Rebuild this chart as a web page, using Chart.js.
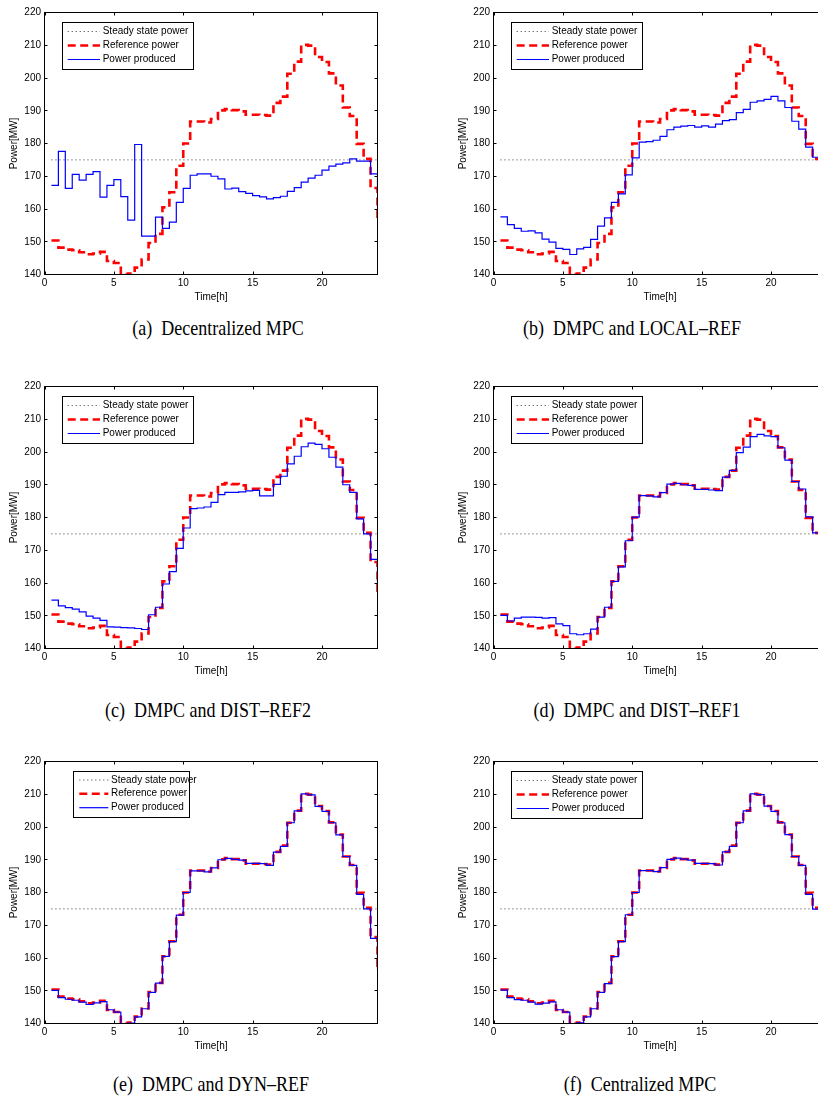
<!DOCTYPE html>
<html>
<head>
<meta charset="utf-8">
<script src="https://cdn.jsdelivr.net/npm/chart.js@4.4.1/dist/chart.umd.min.js"></script>
<style>
html,body{margin:0;padding:0;background:#fff;}
#page{position:relative;width:818px;height:1096px;overflow:hidden;background:#fff;}
.cv{position:absolute;}
.cap{position:absolute;font-family:"Liberation Serif","Times New Roman",serif;font-size:18px;color:#000;white-space:nowrap;transform:translate(-50%,-50%) scaleY(1.12);}
.cap .lbl{margin-right:9px;}
</style>
</head>
<body>
<div id="page"></div>
<script>
// ---------------- DATA ----------------
const hours = [0.5,1,1.5,2,2.5,3,3.5,4,4.5,5,5.5,6,6.5,7,7.5,8,8.5,9,9.5,10,10.5,11,11.5,12,12.5,13,13.5,14,14.5,15,15.5,16,16.5,17,17.5,18,18.5,19,19.5,20,20.5,21,21.5,22,22.5,23,23.5,24];
const steadyHours = [0.5, 24];
const steadyPower = 175;
const referencePower = [150.4,148.2,147.6,147.4,146.8,146.2,146.4,146.9,144.1,143.5,139.9,140.3,142.1,144.6,149.6,152.4,160.5,165.1,173.2,180.0,186.7,186.7,186.4,187.5,190.1,190.5,190.2,189.8,188.8,188.8,188.7,188.5,192.4,194.3,201.3,205.0,210.1,209.9,206.4,204.9,201.4,197.7,191.0,188.4,179.9,175.3,166.4,156.0];
const producedDecentralized = [167.2,177.6,166.3,170.6,168.8,170.6,171.4,163.6,167.2,169.0,163.8,156.6,179.7,151.7,151.7,157.5,154.1,156.0,162.0,166.3,170.3,170.7,170.7,170.0,169.2,166.1,166.4,165.3,164.8,164.1,163.7,163.1,163.5,163.9,165.4,166.5,168.2,169.4,170.3,171.9,173.1,173.7,174.1,175.3,174.6,174.6,170.7,165.4];
const producedLocalRef = [157.6,155.2,154.1,153.2,153.3,152.7,150.8,149.9,148.0,147.7,146.1,147.8,148.3,150.7,154.8,157.3,162.0,164.6,170.4,175.6,180.4,180.6,181.0,182.2,184.2,185.0,185.3,185.5,185.0,185.4,185.0,185.9,187.0,187.3,189.4,190.4,192.6,193.0,193.5,194.4,193.0,191.0,186.8,184.4,178.9,175.8,175.2,174.0];
const producedDistRef2 = [154.8,153.0,152.5,152.0,151.2,149.9,149.3,148.6,146.6,146.5,146.4,146.3,146.1,145.8,150.3,152.6,159.7,163.5,170.6,176.8,182.7,182.9,183.2,184.6,187.0,187.7,187.7,187.8,188.1,188.3,186.6,186.6,190.1,192.6,196.4,198.7,201.6,202.7,202.3,201.0,198.4,195.4,190.0,187.7,179.6,175.0,167.2,159.0];
const producedDistRef1 = [150.1,148.4,149.3,149.6,149.6,149.5,149.3,149.4,147.5,147.0,144.5,144.2,144.5,145.9,149.6,152.6,160.5,164.9,172.9,180.1,186.7,186.6,186.3,187.6,190.2,190.4,190.0,189.8,188.6,188.6,188.4,188.2,192.3,194.4,199.8,201.5,204.7,205.4,204.9,204.7,201.3,197.5,191.0,188.7,180.2,175.3,175.2,175.0];
const producedDynRef = [150.1,147.9,147.4,147.1,146.5,145.8,146.3,146.7,144.2,143.5,139.9,140.1,142.0,144.5,149.5,152.3,160.5,165.0,173.1,180.0,186.6,186.6,186.3,187.5,190.0,190.4,190.1,189.9,188.9,188.9,188.8,188.3,192.3,194.1,201.3,204.9,210.1,209.8,206.3,204.8,201.3,197.6,191.0,188.3,179.4,175.0,166.0,156.5];
const producedCentralized = [150.2,147.9,147.3,147.1,146.5,145.9,146.2,146.6,144.2,143.5,140.0,140.2,142.0,144.5,149.5,152.2,160.4,165.0,173.2,180.0,186.7,186.7,186.4,187.6,190.1,190.5,190.2,189.9,188.9,188.9,188.8,188.4,192.4,194.1,201.3,204.9,210.1,209.9,206.4,204.8,201.3,197.7,191.0,188.3,179.4,174.9,166.2,156.5];
const xTicks = [0,5,10,15,20];
const yTicks = [140,150,160,170,180,190,200,210,220];
const seriesLabels = ['Steady state power','Reference power','Power produced'];
const xTitle = 'Time[h]';
const yTitle = 'Power[MW]';
const captionLabels = ['(a)','(b)','(c)','(d)','(e)','(f)'];
const captionTexts = ['Decentralized MPC','DMPC and LOCAL\u2013REF','DMPC and DIST\u2013REF2','DMPC and DIST\u2013REF1','DMPC and DYN\u2013REF','Centralized MPC'];
const producedSeries = [producedDecentralized, producedLocalRef, producedDistRef2, producedDistRef1, producedDynRef, producedCentralized];

// ---------------- LAYOUT / STYLE ----------------
const FONT = '"Liberation Sans", Arial, Helvetica, sans-serif';
Chart.defaults.font.family = FONT;
Chart.defaults.font.size = 10;
Chart.defaults.color = '#000';

const PLOT_W = 333, PLOT_H = 262, Y_AXIS_W = 44.5, X_AXIS_H = 30, PAD_TOP = 12.5, PAD_RIGHT = 10.5, PAD_BOTTOM = 0.5;
const CANVAS_W = Y_AXIS_W + PLOT_W + PAD_RIGHT;
const CANVAS_H = PAD_TOP + PLOT_H + X_AXIS_H + PAD_BOTTOM;

const legendStd = {box:[17.8,9.2,148.8,56.2], rows:[19.0,33.0,47.0], sample:[23.2,55.5], text:58.2};
const legendE = {box:[28.2,9.2,144.5,55.2], rows:[18.5,32.2,46.2], sample:[34.8,63.8], text:66.5};

const panelLayout = [
  {left:0,   top:0,   legend:legendStd, capX:218, capY:329},
  {left:449, top:0,   legend:legendStd, capX:632, capY:329},
  {left:0,   top:374, legend:legendStd, capX:208, capY:711},
  {left:449, top:374, legend:legendStd, capX:637, capY:711},
  {left:0,   top:749, legend:legendE,   capX:211, capY:1085},
  {left:449, top:749, legend:legendStd, capX:640, capY:1085}
];

const seriesStyle = [
  {borderColor:'#3a3a3a', borderWidth:1, borderDash:[1,3]},
  {borderColor:'#ff0000', borderWidth:2.6, borderDash:[8,4.5]},
  {borderColor:'#0000ff', borderWidth:1.2, borderDash:[]}
];

const framePlugin = {
  id:'frame',
  afterDraw(chart){
    const {ctx, chartArea:a, scales:{x, y}} = chart;
    ctx.save();
    ctx.strokeStyle = '#000';
    ctx.lineWidth = 1;
    ctx.setLineDash([]);
    ctx.strokeRect(a.left, a.top, a.right - a.left, a.bottom - a.top);
    const tl = 3;
    ctx.beginPath();
    x.ticks.forEach(t => {
      const px = Math.round(x.getPixelForValue(t.value)) + 0.5;
      ctx.moveTo(px, a.bottom); ctx.lineTo(px, a.bottom - tl);
      ctx.moveTo(px, a.top); ctx.lineTo(px, a.top + tl);
    });
    y.ticks.forEach(t => {
      const py = Math.round(y.getPixelForValue(t.value) - 0.5) + 0.5;
      ctx.moveTo(a.left, py); ctx.lineTo(a.left + tl, py);
      ctx.moveTo(a.right, py); ctx.lineTo(a.right - tl, py);
    });
    ctx.stroke();
    ctx.restore();
  }
};

const boxLegendPlugin = {
  id:'boxLegend',
  afterDatasetsDraw(chart, args, opts){
    const {ctx, chartArea:a} = chart;
    const L = opts.layout;
    const bx = a.left + L.box[0], by = a.top + L.box[1];
    const bw = L.box[2] - L.box[0], bh = L.box[3] - L.box[1];
    ctx.save();
    ctx.fillStyle = '#fff';
    ctx.fillRect(bx, by, bw, bh);
    ctx.strokeStyle = '#000';
    ctx.lineWidth = 1;
    ctx.setLineDash([]);
    ctx.strokeRect(Math.round(bx) + 0.5, Math.round(by) + 0.5, Math.round(bw), Math.round(bh));
    chart.data.datasets.forEach((ds, i) => {
      const yy = a.top + L.rows[i];
      ctx.beginPath();
      ctx.strokeStyle = ds.borderColor;
      ctx.lineWidth = ds.borderWidth;
      ctx.setLineDash(ds.borderDash || []);
      ctx.moveTo(a.left + L.sample[0], yy);
      ctx.lineTo(a.left + L.sample[1], yy);
      ctx.stroke();
      ctx.setLineDash([]);
      ctx.fillStyle = '#000';
      ctx.font = '10px ' + FONT;
      ctx.textBaseline = 'middle';
      ctx.textAlign = 'left';
      ctx.fillText(ds.label, a.left + L.text, yy);
    });
    ctx.restore();
  }
};

const page = document.getElementById('page');

panelLayout.forEach((p, idx) => {
  const cv = document.createElement('canvas');
  cv.className = 'cv';
  cv.width = CANVAS_W; cv.height = CANVAS_H;
  cv.style.left = p.left + 'px';
  cv.style.top = p.top + 'px';
  cv.style.width = CANVAS_W + 'px';
  cv.style.height = CANVAS_H + 'px';
  page.appendChild(cv);

  const produced = producedSeries[idx];
  const datasets = [
    Object.assign({label:seriesLabels[0], data:steadyHours.map(h => ({x:h, y:steadyPower})), order:2}, seriesStyle[0]),
    Object.assign({label:seriesLabels[1], data:hours.map((h, i) => ({x:h, y:referencePower[i]})), stepped:'before', order:1}, seriesStyle[1]),
    Object.assign({label:seriesLabels[2], data:hours.map((h, i) => ({x:h, y:produced[i]})), stepped:'before', order:0}, seriesStyle[2])
  ];
  datasets.forEach(d => { d.pointRadius = 0; d.fill = false; d.clip = 0; d.tension = 0; });

  new Chart(cv, {
    type:'line',
    data:{datasets},
    options:{
      responsive:false,
      animation:false,
      devicePixelRatio:1,
      events:[],
      layout:{padding:{left:0, top:PAD_TOP, right:PAD_RIGHT, bottom:PAD_BOTTOM}},
      plugins:{
        legend:{display:false},
        tooltip:{enabled:false},
        boxLegend:{layout:p.legend}
      },
      scales:{
        x:{
          type:'linear', min:0, max:24,
          afterBuildTicks:s => { s.ticks = xTicks.map(v => ({value:v})); },
          afterFit:s => { s.height = X_AXIS_H; },
          grid:{display:false, drawTicks:false},
          border:{display:false},
          ticks:{padding:3, maxRotation:0, autoSkip:false, color:'#000', font:{size:10}},
          title:{display:true, text:xTitle, color:'#000', font:{size:10}, padding:{top:0, bottom:1}}
        },
        y:{
          type:'linear', min:140, max:220,
          afterBuildTicks:s => { s.ticks = yTicks.map(v => ({value:v})); },
          afterFit:s => { s.width = Y_AXIS_W; },
          grid:{display:false, drawTicks:false},
          border:{display:false},
          ticks:{padding:3.5, color:'#000', font:{size:10}},
          title:{display:true, text:yTitle, color:'#000', font:{size:10}, padding:{top:8, bottom:0}}
        }
      }
    },
    plugins:[boxLegendPlugin, framePlugin]
  });

  const cap = document.createElement('div');
  cap.className = 'cap';
  cap.style.left = p.capX + 'px';
  cap.style.top = p.capY + 'px';
  const lbl = document.createElement('span');
  lbl.className = 'lbl';
  lbl.textContent = captionLabels[idx];
  cap.appendChild(lbl);
  cap.appendChild(document.createTextNode(captionTexts[idx]));
  page.appendChild(cap);
});
</script>
</body>
</html>
